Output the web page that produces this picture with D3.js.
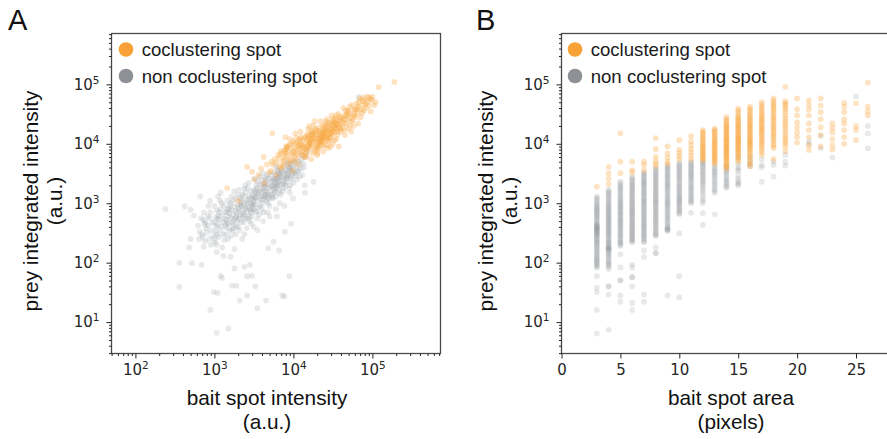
<!DOCTYPE html>
<html>
<head>
<meta charset="utf-8">
<script src="https://cdn.jsdelivr.net/npm/d3@7"></script>
<style>
  body { margin: 0; background: #fff; }
  svg { display: block; }
</style>
</head>
<body>
<svg id="chart" width="887" height="439"></svg>
<script>
// ---- panel A: bait spot intensity vs prey integrated intensity ----
const aGrey = [
  // faint tail
  [240, 800], [360, 39], [360, 100], [500, 250], [480, 180], [520, 98], [690, 92], [730, 185],
  [890, 16], [980, 32], [1100, 31], [1070, 6.6], [1500, 7.8], [1200, 60], [1250, 55], [1670, 41],
  [1900, 41], [2100, 23], [2600, 28], [2600, 59], [3000, 60], [3300, 40], [3500, 17], [4500, 23],
  [7200, 28], [7700, 27], [8900, 59], [2400, 85], [1800, 80], [2800, 92], [1600, 126], [1300, 130],
  [1070, 150], [4800, 175], [6600, 160], [5600, 225], [7800, 330], [9300, 450], [14000, 1500],
  [18000, 2300], [420, 890], [550, 620], [660, 1300], [890, 700], [500, 780], [1200, 1500],
  // body
  [700, 300], [750, 450], [820, 600], [780, 380], [860, 250], [720, 520], [840, 900], [900, 200],
  [1000, 250], [1050, 400], [1100, 550], [1150, 700], [1000, 900], [1200, 350], [1250, 180],
  [1080, 300], [1180, 1100], [1300, 480], [1120, 620], [1020, 220],
  [1400, 300], [1450, 450], [1500, 600], [1550, 800], [1600, 1000], [1650, 1300], [1700, 380],
  [1750, 520], [1420, 700], [1480, 250], [1580, 900], [1720, 350], [1800, 170], [1780, 1600],
  [2000, 400], [2050, 550], [2100, 750], [2150, 900], [2200, 1100], [2250, 1400], [2300, 600],
  [2350, 480], [2400, 300], [2450, 850], [2050, 1700], [2150, 1000], [2350, 650], [2250, 250], [2450, 2000],
  [2800, 500], [2900, 700], [3000, 900], [3100, 1100], [3200, 1300], [3300, 1600], [3400, 2000],
  [2850, 800], [2950, 600], [3050, 1000], [3150, 400], [3250, 1200], [3350, 1500], [3450, 2400],
  [3500, 350], [2900, 750], [3100, 950],
  [4000, 800], [4100, 1000], [4200, 1300], [4300, 1600], [4400, 2000], [4500, 2500], [4600, 1100],
  [4700, 700], [4800, 1500], [4900, 1800], [5000, 900], [4150, 500], [4650, 3000], [4350, 2200], [4850, 1200],
  [5500, 1200], [5700, 1500], [5900, 1800], [6100, 2200], [6300, 2700], [6500, 3200], [6700, 1000],
  [6900, 1400], [5600, 2000], [5800, 2500], [6000, 800], [6200, 600], [6400, 3500], [6600, 1700],
  [7500, 1800], [7800, 2200], [8100, 2700], [8400, 3200], [8700, 4000], [9000, 1500], [9300, 2500],
  [9600, 3000], [9900, 1200], [7700, 900], [8500, 5000], [9100, 2000], [9400, 3600],
  [11000, 2500], [11500, 3500], [12000, 4500], [12500, 5500], [13000, 3000], [13500, 4000],
  [14000, 2000], [14500, 6000], [15000, 7500], [67000, 61000],
  [3600, 1400], [3800, 1700], [4000, 2100], [4200, 1800], [4400, 1400], [5200, 2300], [5400, 1900],
  [5600, 2600], [5800, 1600], [6000, 2900], [6300, 2000], [6600, 2400], [7000, 2800], [7300, 2100],
  [7600, 3400], [8000, 2600], [8300, 3000], [8800, 3500], [9200, 4200], [10000, 3800], [10500, 3200],
  [10200, 4800], [6800, 3100], [5300, 1400], [4600, 1250], [3900, 1150], [3600, 850], [3300, 750],
  [2600, 1000], [2700, 1200], [2500, 800], [1900, 600], [1850, 750], [1950, 500], [2650, 550], [3700, 650],
  [620, 420], [650, 330], [680, 560], [710, 270], [740, 700], [770, 480], [800, 320], [830, 420],
  [870, 560], [910, 350], [940, 470], [960, 280], [880, 1100], [760, 230], [640, 250],
  [1010, 480], [1040, 330], [1070, 760], [1090, 430], [1130, 270], [1160, 520], [1190, 800], [1220, 410],
  [1260, 620], [1290, 300], [1320, 900], [1350, 550], [1380, 420], [1040, 580], [1110, 1300], [1240, 1000],
  [1370, 720], [1060, 200], [1330, 240],
  [1410, 520], [1440, 380], [1470, 820], [1510, 460], [1540, 680], [1570, 350], [1610, 560], [1640, 760],
  [1680, 470], [1710, 1100], [1740, 640], [1770, 430], [1810, 880], [1840, 560], [1880, 1200], [1910, 400],
  [1940, 700], [1970, 950], [1460, 1100], [1620, 280], [1860, 300], [1990, 1400],
  [2020, 820], [2080, 620], [2130, 1200], [2180, 480], [2220, 900], [2280, 700], [2320, 1300], [2380, 1000],
  [2430, 560], [2480, 1500], [2530, 700], [2580, 1100], [2630, 1800], [2680, 850], [2730, 600], [2780, 1300],
  [2830, 1000], [2880, 1600], [2930, 450], [2980, 1200], [2100, 350], [2560, 380], [2700, 2200], [2400, 1750],
  [3050, 1400], [3120, 800], [3180, 1700], [3260, 950], [3330, 1250], [3400, 700], [3480, 1800], [3560, 1100],
  [3640, 1500], [3720, 2100], [3800, 900], [3880, 1300], [3960, 1600], [4040, 2500], [4120, 1150], [4200, 700],
  [4280, 1900], [4360, 1350], [4440, 2700], [3200, 2600], [3500, 550], [4100, 3200], [3750, 2800],
  [4560, 1600], [4680, 2100], [4780, 1000], [4880, 2600], [4980, 1400], [5100, 1900], [5220, 3000], [5340, 1250],
  [5460, 2400], [5580, 1700], [5700, 3300], [5820, 2100], [5940, 1300], [6060, 2600], [6180, 1900], [6300, 3800],
  [6420, 2300], [6540, 1500], [6660, 2900], [6780, 2000], [6900, 3600], [5000, 600], [6000, 4200],
  [7100, 2400], [7250, 3300], [7400, 1600], [7550, 2700], [7700, 4200], [7850, 2000], [8000, 3600], [8200, 2300],
  [8400, 4600], [8600, 2900], [8800, 1800], [9000, 3900], [9250, 2700], [9500, 4600], [9750, 3300], [10000, 2200],
  [10300, 5200], [10600, 2900], [10900, 4100], [11200, 3400], [11600, 5000], [12000, 2800], [12400, 3800],
  [12800, 6500], [13400, 4700]
];

const aOrange = [
  [190000, 110000], [120000, 90000], [5400, 15000], [1450, 1800], [2600, 4100], [3000, 3400],
  [2000, 1100], [4200, 6000], [7900, 13000], [8300, 8900],
  [3200, 2500], [3600, 3000], [3900, 3800], [4300, 2200], [4600, 4500], [4900, 3300],
  [5200, 3500], [5500, 4500], [5800, 5500], [6100, 3000], [6400, 6500], [6700, 4000], [6900, 7500], [5300, 5000],
  [7100, 4000], [7400, 5000], [7700, 6000], [8000, 7000], [8300, 8500], [8600, 4500], [8900, 5500],
  [9200, 10000], [9500, 6500], [9800, 3500], [7600, 7500], [8100, 9000], [9000, 12000],
  [10000, 5000], [10400, 6000], [10800, 7000], [11200, 8000], [11600, 9000], [12000, 11000],
  [12400, 13000], [12800, 6500], [13200, 7500], [13600, 8500], [10200, 10000], [10600, 15000],
  [11000, 5500], [11400, 4500], [11800, 12000], [12200, 9500],
  [14000, 6000], [14400, 7000], [14800, 8000], [15200, 9000], [15600, 10000], [16000, 11000],
  [16500, 12000], [17000, 14000], [17500, 16000], [18000, 20000], [18500, 7500], [19000, 8500],
  [19500, 9500], [14200, 13000], [14600, 6500], [15400, 18000], [16200, 10500], [16800, 5500],
  [17200, 11500], [17800, 15000],
  [20000, 8000], [20600, 9000], [21200, 10000], [21800, 11000], [22400, 12000], [23000, 13000],
  [23600, 15000], [24200, 17000], [24800, 20000], [25400, 24000], [26000, 9500], [26600, 11500],
  [27200, 14000], [20300, 7000], [21500, 16000], [22700, 10500], [23900, 12500], [25100, 18000],
  [26300, 22000], [27500, 8500],
  [28000, 11000], [29000, 13000], [30000, 15000], [31000, 17000], [32000, 20000], [33000, 23000],
  [34000, 27000], [35000, 12000], [36000, 14000], [37000, 16000], [38000, 19000], [39000, 25000],
  [30500, 30000], [31500, 10000], [33500, 18000], [35500, 21000], [37500, 9000],
  [40000, 16000], [42000, 19000], [44000, 22000], [46000, 26000], [48000, 30000], [50000, 35000],
  [52000, 20000], [54000, 24000], [41000, 28000], [43000, 40000], [45000, 14000], [47000, 32000], [49000, 18000],
  [56000, 25000], [59000, 30000], [62000, 36000], [65000, 42000], [68000, 50000], [71000, 28000],
  [74000, 33000], [77000, 45000], [80000, 55000], [60000, 38000], [66000, 22000],
  [83000, 40000], [87000, 50000], [91000, 60000], [95000, 35000], [99000, 55000], [105000, 45000],
  [13000, 9500], [15000, 11500], [16000, 8500], [17000, 10000], [18000, 12500], [19000, 14000],
  [20000, 10500], [21000, 12500], [22000, 14500], [23000, 11000], [24000, 13500], [25000, 15500],
  [26000, 13000], [27000, 17000], [28000, 14500], [29000, 18500], [30000, 12500], [32000, 16000],
  [34000, 19000], [36000, 22000], [19500, 17000], [21000, 8500], [24500, 9500], [28500, 21000], [31000, 24000],
  [6200, 4800], [6600, 5800], [7000, 6800], [7300, 4300], [7600, 5300], [7900, 8000], [8200, 6300],
  [8500, 7400], [8800, 9500], [9100, 5200], [9400, 8300], [9700, 7000], [9900, 11000],
  [10100, 7500], [10500, 8600], [10900, 10500], [11300, 6600], [11700, 10000], [12100, 8300], [12500, 7200],
  [12900, 11500], [13300, 9000], [13700, 12500], [14100, 10000], [14500, 8200], [14900, 14500], [10800, 12500],
  [12300, 16000], [13800, 6000],
  [15100, 12500], [15500, 14000], [15900, 9500], [16300, 13500], [16700, 16500], [17100, 9000], [17600, 12500],
  [18100, 15000], [18600, 11000], [19100, 18000], [19600, 12000], [20100, 14000], [20600, 16500], [21100, 11500],
  [21600, 19000], [22100, 13500], [22600, 9500], [23100, 16000], [23600, 20000], [24100, 11500], [24600, 14500],
  [16000, 20000], [18500, 24000], [22000, 24000], [20000, 6500], [24000, 7500], [17400, 7000],
  [25200, 13000], [26000, 16500], [26800, 19500], [27600, 12000], [28400, 16000], [29200, 23000], [30000, 18000],
  [30800, 14500], [31600, 21000], [32400, 26000], [33200, 15500], [34000, 22000], [34800, 30000], [35600, 17500],
  [36400, 25000], [37200, 32000], [38000, 21000], [38800, 28000], [39600, 18000], [27000, 26000], [33000, 11500],
  [29500, 9000],
  [41000, 23000], [43000, 26000], [45000, 30000], [47000, 22000], [49000, 37000], [51000, 27000], [53000, 32000],
  [55000, 45000], [57000, 30000], [59000, 38000], [61000, 28000], [63000, 48000], [65000, 33000], [67000, 40000],
  [69000, 58000], [44000, 17000], [52000, 42000], [58000, 20000], [46000, 36000], [54000, 16000],
  [72000, 38000], [75000, 52000], [78000, 36000], [82000, 47000], [86000, 62000], [90000, 44000], [94000, 56000],
  [100000, 62000], [110000, 50000], [76000, 60000]
];

// ---- panel B: bait spot area (pixels) vs prey integrated intensity ----
const bAreas = [3, 4, 5, 6, 7, 8, 9, 10, 11, 12, 13, 14, 15, 16, 17, 18, 19, 20, 21, 22, 23, 24, 25, 26];

const bGreyPrey = [
  [1300, 1220, 1150, 1080, 1000, 950, 900, 860, 820, 780, 750, 720, 680, 650, 620, 590, 560, 530, 500, 470, 450, 435, 420, 410, 400, 390, 380, 370, 360, 350, 340, 330, 320, 310, 300, 290, 280, 265, 250, 240, 230, 220, 210, 200, 190, 180, 170, 160, 150, 145, 135, 128, 120, 115, 110, 105, 100, 95, 90, 86, 82, 59, 38, 32, 16, 6.4],
  [1700, 1600, 1500, 1420, 1350, 1270, 1200, 1120, 1050, 1000, 950, 900, 850, 810, 780, 740, 700, 670, 640, 610, 580, 550, 530, 500, 480, 460, 440, 420, 400, 380, 360, 345, 330, 315, 300, 285, 270, 255, 240, 230, 220, 210, 200, 190, 180, 180, 175, 170, 165, 160, 150, 142, 135, 128, 120, 112, 105, 100, 95, 90, 85, 78, 40, 40, 29, 7.4],
  [2300, 2150, 2000, 1900, 1800, 1700, 1600, 1500, 1400, 1320, 1250, 1170, 1100, 1050, 1000, 950, 900, 860, 820, 780, 740, 700, 670, 640, 600, 570, 540, 515, 490, 465, 440, 420, 400, 380, 360, 340, 320, 305, 290, 275, 260, 245, 230, 220, 210, 200, 190, 138, 83, 51, 50, 28, 22],
  [2800, 2650, 2500, 2350, 2200, 2100, 2000, 1900, 1800, 1700, 1600, 1520, 1450, 1370, 1300, 1220, 1150, 1100, 1050, 1000, 950, 900, 850, 810, 780, 740, 700, 670, 640, 610, 580, 550, 520, 495, 470, 450, 430, 410, 390, 370, 350, 335, 320, 305, 290, 275, 260, 250, 240, 230, 220, 93, 83, 57, 57, 40, 21, 16],
  [3300, 3150, 3000, 2850, 2700, 2550, 2400, 2300, 2200, 2100, 2000, 1900, 1800, 1700, 1600, 1520, 1450, 1370, 1300, 1220, 1150, 1100, 1050, 1000, 950, 900, 850, 800, 760, 720, 680, 640, 610, 580, 550, 520, 490, 465, 440, 420, 400, 380, 360, 340, 320, 305, 290, 275, 260, 245, 230, 220, 160, 125, 29, 22],
  [3900, 3700, 3500, 3300, 3100, 2950, 2800, 2650, 2500, 2380, 2250, 2120, 2000, 1900, 1800, 1700, 1600, 1520, 1450, 1370, 1300, 1220, 1150, 1100, 1050, 1000, 950, 900, 850, 800, 760, 720, 680, 640, 600, 570, 540, 510, 480, 455, 430, 405, 380, 360, 340, 320, 300, 290, 280, 180, 144, 144],
  [4300, 4100, 3900, 3700, 3500, 3300, 3100, 2950, 2800, 2650, 2500, 2350, 2200, 2100, 2000, 1900, 1800, 1700, 1600, 1500, 1400, 1320, 1250, 1170, 1100, 1050, 1000, 950, 900, 850, 800, 750, 700, 660, 620, 580, 550, 515, 480, 450, 420, 400, 380, 370, 360, 350, 340, 28],
  [4800, 4550, 4300, 4050, 3800, 3600, 3400, 3200, 3000, 2850, 2700, 2550, 2400, 2250, 2100, 2000, 1900, 1800, 1700, 1600, 1500, 1420, 1350, 1270, 1200, 1150, 1100, 1050, 1000, 950, 900, 850, 800, 760, 720, 680, 650, 310, 59, 26],
  [5000, 4750, 4500, 4250, 4000, 3800, 3600, 3400, 3200, 3050, 2900, 2750, 2600, 2450, 2300, 2150, 2000, 1900, 1800, 1700, 1600, 1500, 1400, 1320, 1250, 1170, 1100, 1050, 1000, 690],
  [5000, 4750, 4500, 4250, 4000, 3750, 3500, 3300, 3100, 2900, 2700, 2550, 2400, 2250, 2100, 1950, 1800, 1650, 1500, 1350, 1200, 1100, 1000, 680, 430],
  [4400, 4000, 3750, 3500, 3300, 3100, 2900, 2700, 2500, 2300, 2150, 2000, 1850, 1700, 1600, 1500, 650],
  [4200, 3800, 3500, 3300, 3100, 2850, 2600, 2450, 2300, 2150, 2000, 1900, 1800],
  [6000, 4600, 4000, 3750, 3500, 3000, 2600, 2400, 2200, 2100, 2000],
  [6000, 5000, 4500, 4200],
  [5500, 4400, 4000, 2300],
  [5000, 4400, 2800],
  [6500, 5000, 4300],
  [],
  [11000, 10000],
  [13500, 8400],
  [5900],
  [],
  [63000],
  [20000, 15000, 8400]
];

const bOrangePrey = [
  [1900],
  [4100, 3200, 2600, 2100],
  [15000, 5000, 3200],
  [5000, 3600, 3300],
  [5000, 4400, 3600],
  [12500, 8100, 6100, 5200, 4700, 4200],
  [9000, 6900, 5800, 5000, 4600],
  [11500, 7900, 7000, 6200, 5500],
  [13500, 11000, 9500, 8200, 7200, 6300, 5500],
  [17000, 16000, 15000, 14000, 13000, 12200, 11500, 10700, 10000, 9500, 9000, 8500, 8000, 7600, 7200, 6800, 6500, 6100, 5800, 5500, 5200],
  [18000, 17000, 16000, 15000, 14000, 13200, 12500, 11700, 11000, 10500, 10000, 9500, 9000, 8500, 8000, 7600, 7200, 6800, 6500, 6100, 5800, 5500, 5200, 4900, 4600],
  [28000, 26000, 24000, 22500, 21000, 20000, 19000, 18000, 17000, 16200, 15500, 14700, 14000, 13200, 12500, 12000, 11500, 11000, 10500, 10000, 9500, 9100, 8700, 8300, 8000, 7600, 7300, 6900, 6600, 6300, 6000, 5700, 5400, 5100, 4800, 4500, 4300, 4000, 3800],
  [39000, 36000, 33000, 30000, 28000, 26500, 25000, 23500, 22000, 21000, 20000, 19000, 18000, 17000, 16000, 15200, 14500, 13700, 13000, 12500, 12000, 11500, 11000, 10500, 10000, 9500, 9000, 8600, 8200, 7800, 7400, 7000, 6600, 6200, 5800, 5400, 5000],
  [42000, 39000, 36000, 33500, 31000, 29000, 27000, 25500, 24000, 22500, 21000, 20000, 19000, 18000, 17000, 16000, 15000, 14200, 13500, 12700, 12000, 11500, 11000, 10500, 10000, 9500, 9000, 8500, 8000, 7500, 7000, 6500, 6000, 5500, 5000, 4600, 4200],
  [50000, 46000, 42000, 39000, 36000, 33500, 31000, 29000, 27000, 25500, 24000, 22500, 21000, 19800, 18500, 17500, 16500, 15500, 14500, 13500, 12500, 11700, 11000, 10200, 9500, 8700, 8000, 7200, 6500],
  [58000, 53000, 49000, 45000, 42000, 39000, 36000, 33000, 30000, 28000, 26000, 24000, 22000, 20500, 19000, 17500, 16500, 15000, 14000, 13000, 12000, 11000, 10000, 9200, 8500, 5500],
  [91000, 52000, 48000, 45000, 41000, 38000, 34000, 30000, 27000, 24000, 22000, 20000, 18000, 16000, 14500, 13000, 12000, 11000, 10000, 9000, 7500],
  [58000, 38000, 30000, 23000, 19000, 15500, 13000, 10500],
  [54000, 45000, 38000, 30000, 22000, 17000, 13000, 9500, 7900],
  [58000, 44000, 34000, 26000, 19000, 14000, 9000],
  [22000, 18500, 15500, 12000, 9500, 8000],
  [49000, 42000, 34000, 26000, 22000, 17000, 13000, 10000],
  [48000, 20000, 17000, 11500],
  [107000, 42000, 35000, 30000]
];

const legendLabels = ['coclustering spot', 'non coclustering spot'];
const yLabel = ['prey integrated intensity', '(a.u.)'];
const xLabelA = ['bait spot intensity', '(a.u.)'];
const xLabelB = ['bait spot area', '(pixels)'];
const xTicksB = [0, 5, 10, 15, 20, 25];
const decades = [1, 2, 3, 4, 5];

const ORANGE = '#f7a136';
const GREY = '#8d9094';
const INK = '#262626';
const SANS = "'Liberation Sans', Arial, sans-serif";
const DEJAVU = "'DejaVu Sans', sans-serif";

function flatten(areas, cols) {
  const pts = [];
  cols.forEach((vals, i) => vals.forEach(v => pts.push([areas[i], v])));
  return pts;
}

function minorTicks(domain) {
  const out = [];
  for (let d = 0; d <= 5; d++) {
    for (let k = 2; k <= 9; k++) {
      const v = k * Math.pow(10, d);
      if (v >= domain[0] && v <= domain[1]) out.push(v);
    }
  }
  return out;
}

function powerLabels(sel) {
  sel.each(function(d) {
    const t = d3.select(this);
    t.text(null);
    t.append('tspan').text('10');
    t.append('tspan')
      .attr('dy', -6)
      .attr('font-size', '10.5px')
      .text(Math.round(Math.log10(d)));
  });
}

class spotPlot {
  constructor(svg, frame, xScale, id) {
    this.svg = svg;
    this.frame = frame;
    this.x = xScale;
    this.id = id;
    this.y = d3
      .scaleLog()
      .domain([2.96, 7.18e5])
      .range([frame.bottom, frame.top]);

    svg
      .append('clipPath')
      .attr('id', 'clip' + id)
      .append('rect')
      .attr('x', frame.left)
      .attr('y', frame.top)
      .attr('width', frame.right - frame.left)
      .attr('height', frame.bottom - frame.top);
  }

  buildScatter(points, color, alpha) {
    this.svg
      .append('g')
      .attr('clip-path', `url(#clip${this.id})`)
      .selectAll('circle')
      .data(points)
      .enter()
      .append('circle')
      .attr('cx', d => this.x(d[0]))
      .attr('cy', d => this.y(d[1]))
      .attr('r', 2.9)
      .style('fill', color)
      .style('fill-opacity', alpha);
  }

  styleAxis(g) {
    g.select('.domain').remove();
    g.selectAll('line').attr('stroke', INK).attr('stroke-width', 1);
    g.selectAll('text')
      .attr('font-family', DEJAVU)
      .attr('font-size', '15px')
      .attr('fill', INK);
  }

  buildYAxis() {
    const f = this.frame;
    this.svg
      .append('g')
      .attr('transform', `translate(${f.left}, 0)`)
      .call(d3.axisLeft(this.y).tickValues(minorTicks(this.y.domain())).tickSize(2.5).tickFormat(''))
      .call(g => this.styleAxis(g));
    this.svg
      .append('g')
      .attr('transform', `translate(${f.left}, 0)`)
      .call(d3.axisLeft(this.y).tickValues(decades.map(d => Math.pow(10, d))).tickSize(5).tickPadding(7))
      .call(g => this.styleAxis(g))
      .call(g => g.selectAll('.tick text').call(powerLabels));
  }

  buildXAxisLog(majors) {
    const f = this.frame;
    this.svg
      .append('g')
      .attr('transform', `translate(0, ${f.bottom})`)
      .call(d3.axisBottom(this.x).tickValues(minorTicks(this.x.domain())).tickSize(2.5).tickFormat(''))
      .call(g => this.styleAxis(g));
    this.svg
      .append('g')
      .attr('transform', `translate(0, ${f.bottom})`)
      .call(d3.axisBottom(this.x).tickValues(majors).tickSize(5).tickPadding(6))
      .call(g => this.styleAxis(g))
      .call(g => g.selectAll('.tick text').call(powerLabels));
  }

  buildXAxisLinear(ticks) {
    this.svg
      .append('g')
      .attr('transform', `translate(0, ${this.frame.bottom})`)
      .call(d3.axisBottom(this.x).tickValues(ticks).tickSize(5).tickPadding(6))
      .call(g => this.styleAxis(g));
  }

  buildFrame() {
    const f = this.frame;
    this.svg
      .append('rect')
      .attr('x', f.left)
      .attr('y', f.top)
      .attr('width', f.right - f.left)
      .attr('height', f.bottom - f.top)
      .attr('fill', 'none')
      .attr('stroke', '#4a4a4a')
      .attr('stroke-width', 1.3);
  }

  buildLegend(markerX, textX) {
    const rows = [[ORANGE, 49.5], [GREY, 76]];
    rows.forEach((r, i) => {
      this.svg
        .append('circle')
        .attr('cx', markerX)
        .attr('cy', r[1])
        .attr('r', 7.3)
        .style('fill', r[0]);
      this.svg
        .append('text')
        .attr('x', textX)
        .attr('y', r[1] + 6.5)
        .attr('font-family', SANS)
        .attr('font-size', '18.6px')
        .attr('fill', '#1a1a1a')
        .text(legendLabels[i]);
    });
  }

  buildLabels(letter, letterX, xLines, xCenter, yBase) {
    this.svg
      .append('text')
      .attr('x', letterX)
      .attr('y', 29.5)
      .attr('font-family', SANS)
      .attr('font-size', '29px')
      .attr('fill', '#111')
      .text(letter);

    xLines.forEach((t, i) => {
      this.svg
        .append('text')
        .attr('x', xCenter)
        .attr('y', 404.5 + i * 24)
        .attr('text-anchor', 'middle')
        .attr('font-family', SANS)
        .attr('font-size', '20.8px')
        .attr('fill', '#111')
        .text(t);
    });

    yLabel.forEach((t, i) => {
      this.svg
        .append('text')
        .attr('transform', `translate(${yBase + i * 24}, 201) rotate(-90)`)
        .attr('text-anchor', 'middle')
        .attr('font-family', SANS)
        .attr('font-size', '20.8px')
        .attr('fill', '#111')
        .text(t);
    });
  }
}

const svg = d3.select('#chart');

// panel A
const frameA = { left: 111.5, right: 440.5, top: 33.5, bottom: 353.5 };
const xA = d3.scaleLog().domain([49.8, 7.28e5]).range([frameA.left, frameA.right]);
const plotA = new spotPlot(svg, frameA, xA, 'A');
plotA.buildScatter(aGrey, GREY, 0.2);
plotA.buildScatter(aOrange, ORANGE, 0.3);
plotA.buildFrame();
plotA.buildYAxis();
plotA.buildXAxisLog([100, 1000, 10000, 100000]);
plotA.buildLegend(126, 141.7);
plotA.buildLabels('A', 8, xLabelA, 267, 38);

// panel B
const frameB = { left: 561.5, right: 889, top: 33.5, bottom: 353.5 };
const xB = d3.scaleLinear().domain([0, 27.8]).range([frameB.left, frameB.right]);
const plotB = new spotPlot(svg, frameB, xB, 'B');
plotB.buildScatter(flatten(bAreas, bGreyPrey), GREY, 0.2);
plotB.buildScatter(flatten(bAreas, bOrangePrey), ORANGE, 0.3);
plotB.buildFrame();
plotB.buildYAxis();
plotB.buildXAxisLinear(xTicksB);
plotB.buildLegend(575, 590.7);
plotB.buildLabels('B', 476, xLabelB, 731, 493);
</script>
</body>
</html>
